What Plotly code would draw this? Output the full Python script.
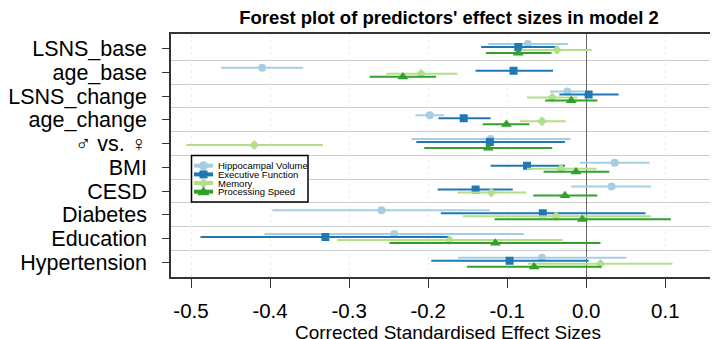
import plotly.graph_objects as go

# ---------------- data ----------------
categories = ["LSNS_base", "age_base", "LSNS_change", "age_change", "♂ vs. ♀",
              "BMI", "CESD", "Diabetes", "Education", "Hypertension"]

series_names = ["Hippocampal Volume", "Executive Function", "Memory", "Processing Speed"]

hv_est = [-0.074, -0.410, -0.024, -0.198, -0.121, 0.036, 0.032, -0.259, -0.243, -0.056]
hv_lo = [-0.124, -0.462, -0.046, -0.216, -0.221, -0.008, -0.019, -0.397, -0.407, -0.162]
hv_hi = [-0.023, -0.358, -0.003, -0.180, -0.020, 0.080, 0.082, -0.122, -0.079, 0.051]

ef_est = [-0.086, -0.092, 0.003, -0.155, -0.122, -0.075, -0.140, -0.055, -0.330, -0.097]
ef_lo = [-0.133, -0.140, -0.034, -0.187, -0.215, -0.121, -0.188, -0.184, -0.488, -0.196]
ef_hi = [-0.037, -0.042, 0.041, -0.121, -0.027, -0.027, -0.093, 0.075, -0.173, 0.003]

mem_est = [-0.037, -0.209, -0.043, -0.056, -0.420, -0.032, -0.120, -0.038, -0.173, 0.018]
mem_lo = [-0.082, -0.253, -0.075, -0.084, -0.506, -0.075, -0.163, -0.156, -0.315, -0.074]
mem_hi = [0.007, -0.163, -0.011, -0.026, -0.333, 0.013, -0.076, 0.082, -0.030, 0.109]

ps_est = [-0.086, -0.232, -0.019, -0.101, -0.124, -0.013, -0.027, -0.005, -0.115, -0.066]
ps_lo = [-0.127, -0.274, -0.052, -0.131, -0.205, -0.054, -0.067, -0.116, -0.249, -0.151]
ps_hi = [-0.044, -0.190, 0.014, -0.072, -0.043, 0.029, 0.014, 0.107, 0.018, 0.019]

x_ticks = [-0.5, -0.4, -0.3, -0.2, -0.1, 0.0, 0.1]
x_tick_labels = ["-0.5", "-0.4", "-0.3", "-0.2", "-0.1", "0.0", "0.1"]

title_text = "Forest plot of predictors' effect sizes in model 2"
x_title = "Corrected Standardised Effect Sizes"

# ---------------- style ----------------
W, H = 718, 339
M_L, M_R, M_T, M_B = 163, 1, 26, 70
FONT = "Liberation Sans, Arial, Helvetica, sans-serif"

colors = ["#a6cee3", "#1f78b4", "#b2df8a", "#33a02c"]
symbols = ["circle", "square", "diamond", "triangle-up"]
msizes = [8, 8, 7.5, 9.5]
offsets = [-0.19, -0.063, 0.063, 0.19]

all_est = [hv_est, ef_est, mem_est, ps_est]
all_lo = [hv_lo, ef_lo, mem_lo, ps_lo]
all_hi = [hv_hi, ef_hi, mem_hi, ps_hi]

fig = go.Figure()
for k in range(4):
    est, lo, hi = all_est[k], all_lo[k], all_hi[k]
    ys = [i + 1 + offsets[k] for i in range(len(categories))]
    fig.add_trace(go.Scatter(
        x=est, y=ys, mode="markers", name=series_names[k], showlegend=False,
        marker=dict(symbol=symbols[k], size=msizes[k], color=colors[k], line=dict(width=0)),
        error_x=dict(type="data", symmetric=False,
                     array=[h - e for h, e in zip(hi, est)],
                     arrayminus=[e - l for e, l in zip(est, lo)],
                     color=colors[k], thickness=2, width=0),
    ))

plot_w = W - M_L - M_R
plot_h = H - M_T - M_B


def px_x(px):
    return (px - M_L) / plot_w


def px_y(py):
    return 1 - (py - M_T) / plot_h


shapes = []
annotations = []

# custom legend (R style)
shapes.append(dict(type="rect", xref="paper", yref="paper",
                   x0=px_x(183.5), x1=px_x(300), y0=px_y(194), y1=px_y(147.5),
                   line=dict(color="black", width=1.5), fillcolor="white", layer="above"))
row_py = [157.7, 166.4, 175.0, 183.7]
line_x0, line_x1, mark_x = px_x(186), px_x(205), px_x(195.5)
for k in range(4):
    yk = px_y(row_py[k])
    shapes.append(dict(type="line", xref="paper", yref="paper", x0=line_x0, x1=line_x1,
                       y0=yk, y1=yk, line=dict(color=colors[k], width=4), layer="above"))
    base = dict(xref="paper", yref="paper", xsizemode="pixel", ysizemode="pixel",
                xanchor=mark_x, yanchor=yk, fillcolor=colors[k],
                line=dict(color=colors[k], width=0), layer="above")
    if k == 0:
        shapes.append(dict(type="circle", x0=-4.5, x1=4.5, y0=-4.5, y1=4.5, **base))
    elif k == 1:
        shapes.append(dict(type="rect", x0=-4, x1=4, y0=-4, y1=4, **base))
    elif k == 2:
        shapes.append(dict(type="path", path="M -5 0 L 0 5 L 5 0 L 0 -5 Z", **base))
    else:
        shapes.append(dict(type="path", path="M -6 -3.5 L 6 -3.5 L 0 5.5 Z", **base))
    annotations.append(dict(xref="paper", yref="paper", x=px_x(208), y=yk,
                            xanchor="left", yanchor="middle", showarrow=False,
                            text=series_names[k], font=dict(family=FONT, size=9.5, color="black")))

# x axis title
annotations.append(dict(xref="paper", yref="paper", x=0.5, y=px_y(324.5),
                        xanchor="center", yanchor="middle", showarrow=False,
                        text=x_title, font=dict(family=FONT, size=19, color="black")))

fig.update_layout(
    width=W, height=H,
    margin=dict(l=M_L, r=M_R, t=M_T, b=M_B, pad=0),
    paper_bgcolor="white", plot_bgcolor="white",
    title=dict(text="<b>" + title_text + "</b>", x=441 / W,
               xanchor="center", y=1 - 9.5 / H, yanchor="middle", yref="container",
               font=dict(family=FONT, size=18.5, color="black")),
    shapes=shapes, annotations=annotations, showlegend=False,
)

fig.update_xaxes(
    range=[-0.5253, 0.1755], tickvals=x_ticks, ticktext=x_tick_labels,
    showline=True, mirror=True, linecolor="#333333", linewidth=1.5,
    ticks="outside", ticklen=9, tickcolor="#333333", tickwidth=1,
    tickfont=dict(family=FONT, size=20.5, color="black"), ticklabelstandoff=6,
    showgrid=True, gridcolor="#eeeeee", griddash="dot", gridwidth=1,
    zeroline=True, zerolinecolor="#666666", zerolinewidth=1, automargin=False,
)
fig.update_yaxes(
    range=[10.62, 0.39], tickvals=list(range(1, len(categories) + 1)), ticktext=categories,
    showline=True, mirror=True, linecolor="#333333", linewidth=1.5,
    ticks="outside", ticklen=7, tickcolor="#333333", tickwidth=1,
    tickfont=dict(family=FONT, size=21.5, color="black"), ticklabelstandoff=11,
    showgrid=False, zeroline=False, automargin=False,
    minor=dict(tickvals=[i + 1.5 for i in range(len(categories) - 1)], showgrid=True,
               gridcolor="#cccccc", gridwidth=1, ticks=""),
)

fig.write_html("out.html")
